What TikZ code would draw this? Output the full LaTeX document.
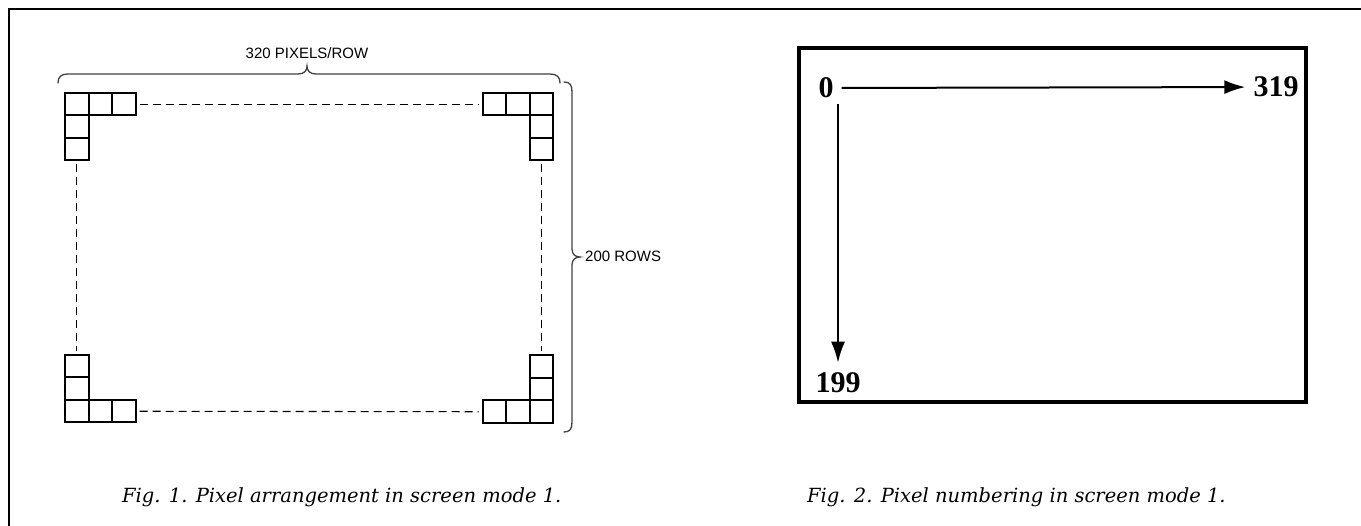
\documentclass[tikz,border=0pt]{standalone}
\usepackage{fontspec}
\setmainfont{Liberation Serif}
\setsansfont{Liberation Sans}
\newfontfamily\capfont{DejaVu Serif}
\usetikzlibrary{arrows.meta}
\tikzset{
  cell/.style={draw, line width=2pt, minimum width=23.5pt, minimum height=22.5pt, inner sep=0pt, outer sep=0pt},
  guide/.style={line width=1.1pt, dash pattern=on 8pt off 5pt},
  bracepath/.style={line width=1.3pt, black!75, line cap=round},
  numlbl/.style={font=\bfseries\fontsize{30}{30}\selectfont, inner sep=0pt},
  caption/.style={font=\capfont\itshape\fontsize{19.5}{19.5}\selectfont, anchor=west, inner sep=0pt},
  dimlbl/.style={font=\sffamily\fontsize{15}{15}\selectfont, inner sep=0pt},
  arrowline/.style={line width=2pt, -{Latex[length=21pt,width=14pt]}},
  screenbox/.style={draw, line width=4pt, minimum width=507pt, minimum height=354pt, inner sep=0pt}
}
\begin{document}
\begin{tikzpicture}[x=1pt,y=-1pt]
\useasboundingbox (0,0) rectangle (1361,526);
% outer frame (top and left edges)
\draw[line width=1.8pt] (9,526) -- (9,9) -- (1361,9);

% ---- Fig. 1 ----
% top-left corner
\node[cell] (tla) at (76.75,104.25) {};
\node[cell] (tlb) at (100.25,104.25) {};
\node[cell] (tlc) at (123.75,104.25) {};
\node[cell] (tld) at (76.75,126.75) {};
\node[cell] (tle) at (76.75,149.25) {};
% top-right corner
\node[cell] (tra) at (541.25,104.25) {};
\node[cell] (trb) at (517.75,104.25) {};
\node[cell] (trc) at (494.25,104.25) {};
\node[cell] (trd) at (541.25,126.75) {};
\node[cell] (tre) at (541.25,149.25) {};
% bottom-left corner
\node[cell] (bla) at (76.75,411.25) {};
\node[cell] (blb) at (100.25,411.25) {};
\node[cell] (blc) at (123.75,411.25) {};
\node[cell] (bld) at (76.75,388.75) {};
\node[cell] (ble) at (76.75,366.25) {};
% bottom-right corner
\node[cell] (bra) at (541.25,411.75) {};
\node[cell] (brb) at (517.75,411.75) {};
\node[cell] (brc) at (494.25,411.75) {};
\node[cell] (brd) at (541.25,389.25) {};
\node[cell] (bre) at (541.25,366.75) {};
% dashed guides
\draw[guide, shorten <=4pt, shorten >=4pt] (tlc) -- (trc);
\draw[guide, shorten <=4pt, shorten >=4pt] (blc) -- (brc);
\draw[guide, shorten <=4pt, shorten >=4pt] (tle) -- (ble);
\draw[guide, shorten <=4pt, shorten >=4pt] (tre) -- (bre);

% braces
\draw[bracepath] (58,83) .. controls (58,77) and (61,74) .. (68,74) -- (298,74)
  .. controls (304,74) and (307,71) .. (307,66)
  .. controls (307,71) and (310,74) .. (316,74) -- (550,74)
  .. controls (557,74) and (560,77) .. (560,83);
\draw[bracepath] (564,82) .. controls (570,82) and (572,85) .. (572,92) -- (572,249)
  .. controls (572,254) and (575,257) .. (580,257)
  .. controls (575,257) and (572,260) .. (572,265) -- (572,422)
  .. controls (572,429) and (570,432) .. (564,432);
\node[dimlbl] (wlbl) at (307,53) {320 PIXELS/ROW};
\node[dimlbl, anchor=west] (hlbl) at (585,256) {200 ROWS};

% ---- Fig. 2 ----
\node[screenbox] (screen) at (1052.5,225) {};
\node[numlbl] (n0) at (826,88) {0};
\node[numlbl] (n319) at (1276,87) {319};
\node[numlbl] (n199) at (838,383) {199};
\draw[arrowline, shorten <=8pt, shorten >=8pt] (n0) -- (n319);
\draw[arrowline, shorten <=6pt, shorten >=10pt] (n0.south -| n199.north) -- (n199.north);

% captions
\node[caption] (cap1) at (122,497) {Fig. 1. Pixel arrangement in screen mode 1.};
\node[caption] (cap2) at (807,497) {Fig. 2. Pixel numbering in screen mode 1.};
\end{tikzpicture}
\end{document}
